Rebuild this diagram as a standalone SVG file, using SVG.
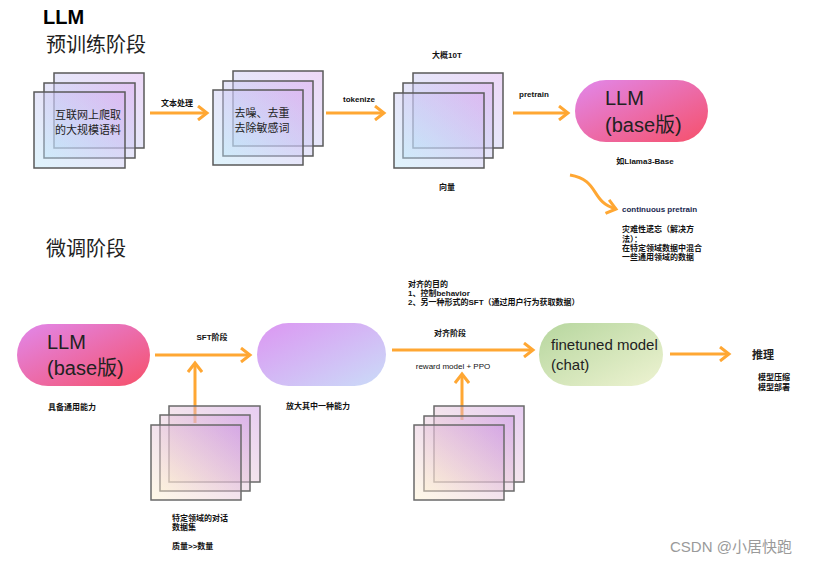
<svg xmlns="http://www.w3.org/2000/svg" width="821" height="565" viewBox="0 0 821 565">
<defs>
<linearGradient id="gStack" x1="0" y1="1" x2="1" y2="0">
<stop offset="0" stop-color="#b8e6f8"/>
<stop offset="1" stop-color="#d8a8ee"/>
</linearGradient>
<linearGradient id="gStack2" x1="0" y1="1" x2="1" y2="0">
<stop offset="0" stop-color="#fff2cc"/>
<stop offset="1" stop-color="#c98fe2"/>
</linearGradient>
<linearGradient id="gBase" x1="0" y1="0" x2="1" y2="1">
<stop offset="0" stop-color="#e188ec"/>
<stop offset="1" stop-color="#f6506a"/>
</linearGradient>
<linearGradient id="gMid" x1="0" y1="0" x2="1" y2="1">
<stop offset="0" stop-color="#dc96f2"/>
<stop offset="1" stop-color="#cadcf8"/>
</linearGradient>
<linearGradient id="gFine" x1="0" y1="0" x2="1" y2="1">
<stop offset="0" stop-color="#b6d69e"/>
<stop offset="1" stop-color="#eef3d2"/>
</linearGradient>
<marker id="arr" markerWidth="14" markerHeight="16" refX="11" refY="8" orient="auto" markerUnits="userSpaceOnUse">
<path d="M2,1 L11,8 L2,15" fill="none" stroke="#ffa733" stroke-width="3"/>
</marker>
<style>
.stk{fill:url(#gStack);fill-opacity:0.45;stroke:#5a5a5a;stroke-width:1.5}
.stk2{fill:url(#gStack2);fill-opacity:0.45;stroke:#6a6a6a;stroke-width:1.5}
.con{fill:none;stroke:#ffa733;stroke-width:3;marker-end:url(#arr)}
.sm{font-family:"Liberation Sans","Noto Sans CJK SC",sans-serif;font-size:8px;font-weight:bold;fill:#111}
.cn{font-family:"Noto Sans CJK SC",sans-serif;font-size:11px;fill:#222}
.title{font-family:"Noto Sans CJK SC",sans-serif;font-size:20px;fill:#222}
.big{font-family:"Liberation Sans","Noto Sans CJK SC",sans-serif;font-size:20px;fill:#222}
</style>
</defs>

<text x="43" y="24" font-family="Liberation Sans, sans-serif" font-size="20" font-weight="bold" fill="#000">LLM</text>
<text class="title" x="46" y="52">预训练阶段</text>
<text class="title" x="46" y="256">微调阶段</text>

<g id="connectors">
<path class="con" d="M150,113 L207,113"/>
<path class="con" d="M326,113 L384,113"/>
<path class="con" d="M513,113 L568,113"/>
<path class="con" d="M570,175 C600,180 590,202 616,209"/>
<path class="con" d="M155,355 L250,355"/>
<path class="con" d="M195,423 L195,363"/>
<path class="con" d="M392,350 L533,350"/>
<path class="con" d="M462,420 L462,374"/>
<path class="con" d="M670,354 L729,354"/>
</g>

<g id="stack-corpus">
<rect class="stk" x="54" y="73" width="90" height="75"/>
<rect class="stk" x="44" y="83" width="91" height="75"/>
<rect class="stk" x="34" y="92" width="91" height="76"/>
<text class="cn" x="88" y="119" text-anchor="middle">互联网上爬取</text>
<text class="cn" x="88" y="134" text-anchor="middle">的大规模语料</text>
</g>
<text class="sm" x="177" y="106" text-anchor="middle">文本处理</text>

<g id="stack-clean">
<rect class="stk" x="233" y="71" width="90" height="75"/>
<rect class="stk" x="223" y="81" width="90" height="75"/>
<rect class="stk" x="213" y="90" width="90" height="75"/>
<text class="cn" x="262" y="117" text-anchor="middle">去噪、去重</text>
<text class="cn" x="262" y="132" text-anchor="middle">去除敏感词</text>
</g>
<text class="sm" x="359" y="102" text-anchor="middle">tokenize</text>

<g id="stack-vector">
<rect class="stk" x="413" y="73" width="90" height="75"/>
<rect class="stk" x="403" y="83" width="90" height="75"/>
<rect class="stk" x="394" y="93" width="90" height="75"/>
<text class="sm" x="447" y="58" text-anchor="middle">大概10T</text>
<text class="sm" x="447" y="190" text-anchor="middle">向量</text>
</g>
<text class="sm" x="534" y="97" text-anchor="middle">pretrain</text>

<g id="llm-base-top">
<rect x="575" y="80" width="133" height="62" rx="31" fill="url(#gBase)"/>
<text class="big" x="605" y="105">LLM</text>
<text class="big" x="605" y="132">(base版)</text>
<text class="sm" x="645" y="164" text-anchor="middle">如Llama3-Base</text>
</g>

<g id="continuous">
<text class="sm" x="622" y="212" style="fill:#1a2850">continuous pretrain</text>
<text class="sm" x="622" y="232">灾难性遗忘（解决方</text>
<text class="sm" x="622" y="242">法）：</text>
<text class="sm" x="622" y="251">在特定领域数据中混合</text>
<text class="sm" x="622" y="260">一些通用领域的数据</text>
</g>

<g id="llm-base-bottom">
<rect x="17" y="324" width="133" height="62" rx="31" fill="url(#gBase)"/>
<text class="big" x="47" y="349">LLM</text>
<text class="big" x="47" y="375">(base版)</text>
<text class="sm" x="48" y="410">具备通用能力</text>
</g>
<text class="sm" x="212" y="340" text-anchor="middle">SFT阶段</text>

<g id="stack-sft">
<rect class="stk2" x="169" y="406" width="91" height="76"/>
<rect class="stk2" x="160" y="415" width="90" height="76"/>
<rect class="stk2" x="151" y="425" width="90" height="75"/>
<text class="sm" x="172" y="521">特定领域的对话</text>
<text class="sm" x="172" y="530">数据集</text>
<text class="sm" x="172" y="549">质量&gt;&gt;数量</text>
</g>

<g id="sft-model">
<rect x="257" y="323" width="129" height="63" rx="31.5" fill="url(#gMid)"/>
<text class="sm" x="318" y="409" text-anchor="middle">放大其中一种能力</text>
</g>

<g id="align-notes">
<text class="sm" x="408" y="287">对齐的目的</text>
<text class="sm" x="408" y="296">1、控制behavior</text>
<text class="sm" x="408" y="305">2、另一种形式的SFT（通过用户行为获取数据）</text>
</g>
<text class="sm" x="450" y="336" text-anchor="middle">对齐阶段</text>
<text class="sm" x="453" y="369" text-anchor="middle" style="font-weight:normal">reward model + PPO</text>

<g id="stack-pref">
<rect class="stk2" x="434" y="406" width="90" height="76"/>
<rect class="stk2" x="424" y="416" width="90" height="75"/>
<rect class="stk2" x="414" y="425" width="90" height="75"/>
</g>

<g id="finetuned">
<rect x="539" y="323" width="124" height="63" rx="31.5" fill="url(#gFine)"/>
<text x="551" y="350" font-family="Liberation Sans, sans-serif" font-size="15" fill="#222">finetuned model</text>
<text x="551" y="370" font-family="Liberation Sans, sans-serif" font-size="15" fill="#222">(chat)</text>
</g>

<g id="inference">
<text x="752" y="359" font-family="Noto Sans CJK SC, sans-serif" font-size="11" font-weight="bold" fill="#222">推理</text>
<text class="sm" x="758" y="380">模型压缩</text>
<text class="sm" x="758" y="390">模型部署</text>
</g>

<text x="670" y="552" font-family="Liberation Sans, Noto Sans CJK SC, sans-serif" font-size="15" fill="#9a9a9a">CSDN @小居快跑</text>
</svg>
